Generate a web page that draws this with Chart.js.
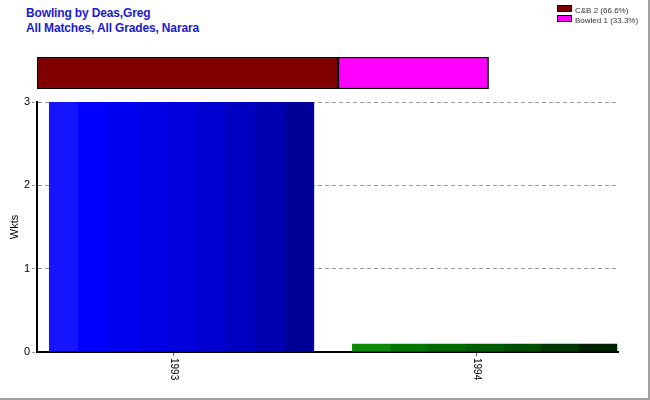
<!DOCTYPE html>
<html>
<head>
<meta charset="utf-8">
<script src="https://cdn.jsdelivr.net/npm/chart.js@4"></script>
<style>
  body { margin: 0; background: #fff; }
  #marco { position: relative; width: 650px; height: 400px; box-sizing: border-box;
           border-right: 2px solid #a0a0a0; border-bottom: 2px solid #a0a0a0; overflow: hidden; }
  canvas { position: absolute; left: 0; top: 0; }
  #titulo { position: absolute; left: 26px; top: 6px; font: bold 12px "Liberation Sans", Arial, sans-serif;
            color: #1a1acc; line-height: 15px; letter-spacing: -0.15px; }
  #leyenda { position: absolute; left: 557px; top: 5px; font: 8px "Liberation Sans", Arial, sans-serif; color: #333; }
  .fila { height: 10px; line-height: 10px; white-space: nowrap; }
  .caja { display: inline-block; width: 13px; height: 5px; border: 1px solid #000; margin-right: 3px; vertical-align: 1px; }
</style>
</head>
<body>
<div id="marco">
  <div id="titulo">Bowling by Deas,Greg<br>All Matches, All Grades, Narara</div>
  <canvas id="grafico" width="650" height="400"></canvas>
  <canvas id="barraTipos" width="650" height="400"></canvas>
  <div id="leyenda"></div>
</div>
<script>
// datos del grafico
var anios = ['1993', '1994'];
var wickets = [3, 0.1];
var tipos = ['C&B', 'Bowled'];
var cantidades = [2, 1];
var porcentajes = ['66.6%', '33.3%'];
var coloresTipos = ['#800000', '#ff00ff'];
var ticksY = [0, 1, 2, 3];

// bandas de color de cada barra (de izquierda a derecha)
var bandas = [
    ['#1414ff', '#0000ff', '#0000f0', '#0000e6', '#0000dc', '#0000d0', '#0000c2', '#0000b0', '#000098'],
    ['#0a8a0a', '#007800', '#006a00', '#005c00', '#004c00', '#003400', '#002000']
];
var anchoBarra = 0.875;

function gradiente(ctx) {
    var chart = ctx.chart;
    var i = ctx.dataIndex;
    var cols = bandas[i % bandas.length];
    var esc = chart.scales.x;
    if (!chart.chartArea || !esc) return cols[0];
    var centro = esc.getPixelForValue(i);
    var ancho = (esc.getPixelForValue(1) - esc.getPixelForValue(0)) * anchoBarra;
    var x0 = centro - ancho / 2;
    var g = chart.ctx.createLinearGradient(x0, 0, x0 + ancho, 0);
    for (var k = 0; k < cols.length; k++) {
        g.addColorStop(k / cols.length, cols[k]);
        g.addColorStop((k + 1) / cols.length - 0.0001, cols[k]);
    }
    return g;
}

// etiquetas del eje x giradas en sentido horario
var etiquetasX = {
    id: 'etiquetasX',
    afterDraw: function (chart) {
        var c = chart.ctx;
        var esc = chart.scales.x;
        c.save();
        c.font = '10px "Liberation Sans", Arial, sans-serif';
        c.fillStyle = '#000';
        c.textAlign = 'left';
        c.textBaseline = 'middle';
        for (var i = 0; i < anios.length; i++) {
            c.save();
            c.translate(esc.getPixelForValue(i) - 8, chart.chartArea.bottom + 6);
            c.rotate(Math.PI / 2);
            c.fillText(anios[i], 0, 0);
            c.restore();
        }
        c.restore();
    }
};

var puntos = [];
for (var p = 0; p < anios.length; p++) puntos.push({ x: p, y: wickets[p] });

new Chart(document.getElementById('grafico'), {
    type: 'bar',
    data: {
        datasets: [{
            label: 'Wkts',
            data: puntos,
            backgroundColor: gradiente,
            borderWidth: 0,
            barPercentage: anchoBarra,
            categoryPercentage: 1
        }]
    },
    options: {
        responsive: false,
        animation: false,
        layout: { padding: { left: 0, top: 102, right: 32, bottom: 0 } },
        plugins: { legend: { display: false }, tooltip: { enabled: false } },
        scales: {
            x: {
                type: 'linear',
                min: -0.477,
                max: 1.44,
                offset: false,
                afterBuildTicks: function (s) { s.ticks = anios.map(function (a, i) { return { value: i - 0.027 }; }); },
                grid: { display: true, offset: false, drawOnChartArea: false, drawTicks: true, tickLength: 4, tickColor: '#666' },
                border: { color: '#000', width: 2 },
                ticks: { display: false },
                afterFit: function (s) { s.height = 48; }
            },
            y: {
                min: 0,
                max: 3,
                afterBuildTicks: function (s) { s.ticks = ticksY.map(function (v) { return { value: v }; }); },
                grid: { color: '#999', tickColor: '#999', tickLength: 5, tickBorderDash: [3, 2] },
                border: { color: '#000', width: 2, dash: [4, 3] },
                ticks: { color: '#000', padding: 2, font: { size: 11, family: '"Liberation Sans", Arial, sans-serif' } },
                title: { display: true, text: 'Wkts', color: '#000', padding: { top: 8, bottom: 0 }, font: { size: 11, family: '"Liberation Sans", Arial, sans-serif' } },
                afterFit: function (s) { s.width = 37; }
            }
        }
    },
    plugins: [etiquetasX]
});

// barra horizontal con los tipos de eliminacion
var dsTipos = [];
for (var i = 0; i < tipos.length; i++) {
    dsTipos.push({
        label: tipos[i] + ' ' + cantidades[i] + ' (' + porcentajes[i] + ')',
        data: [cantidades[i]],
        backgroundColor: coloresTipos[i],
        borderColor: '#000',
        borderWidth: 1.5,
        borderSkipped: false,
        barPercentage: 1,
        categoryPercentage: 1
    });
}

new Chart(document.getElementById('barraTipos'), {
    type: 'bar',
    data: { labels: [''], datasets: dsTipos },
    options: {
        indexAxis: 'y',
        responsive: false,
        animation: false,
        layout: { padding: { left: 37, top: 57, right: 32, bottom: 311 } },
        plugins: { legend: { display: false }, tooltip: { enabled: false } },
        scales: {
            x: { display: false, stacked: true, min: 0, max: 3.86 },
            y: { display: false, stacked: true }
        }
    }
});

// leyenda
var htmlLeyenda = '';
for (var j = 0; j < dsTipos.length; j++) {
    htmlLeyenda += '<div class="fila"><span class="caja" style="background:' + coloresTipos[j] + '"></span>' +
        dsTipos[j].label.replace('&', '&amp;') + '</div>';
}
document.getElementById('leyenda').innerHTML = htmlLeyenda;
</script>
</body>
</html>
